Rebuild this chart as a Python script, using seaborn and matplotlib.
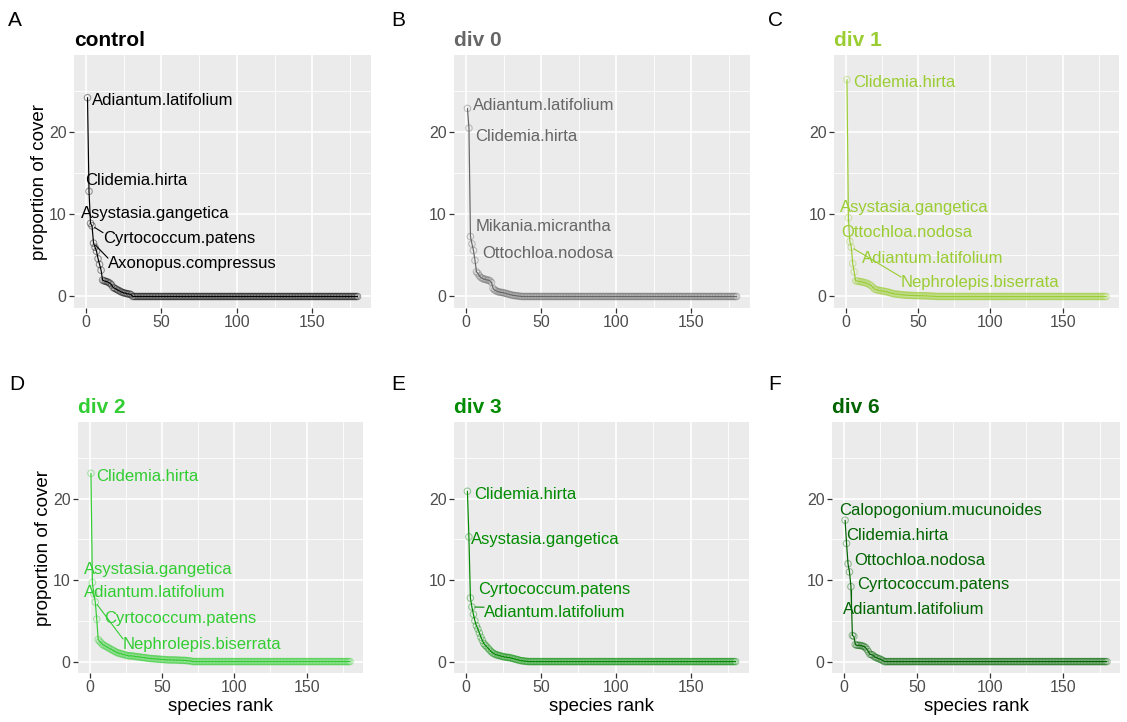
import numpy as np
import pandas as pd
import matplotlib
matplotlib.use("Agg")
import matplotlib.pyplot as plt
import seaborn as sns

# ---------------- data ----------------
N_SPECIES = 180

panel_letters = ["A", "B", "C", "D", "E", "F"]
panel_titles = ["control", "div 0", "div 1", "div 2", "div 3", "div 6"]
panel_colors = ["#000000", "#666666", "#9ACD32", "#32CD32", "#008B00", "#006400"]

# proportion of cover of the ranked species (all remaining species are 0)
cover_control = [24.2, 12.8, 8.9, 8.6, 6.5, 6.0, 5.5, 4.6, 3.9, 3.2, 2.0, 1.9, 1.85,
                 1.8, 1.7, 1.6, 1.4, 1.1, 1.0, 0.9, 0.8, 0.7, 0.6, 0.5, 0.45, 0.4,
                 0.35, 0.3, 0.3, 0.2]
cover_div0 = [22.9, 20.5, 7.3, 6.4, 5.6, 4.4, 3.0, 2.8, 2.5, 2.3, 2.2, 2.1, 2.1, 2.0,
              2.0, 1.9, 1.7, 1.0, 0.8, 0.7, 0.6, 0.55, 0.5, 0.5, 0.45, 0.4, 0.35,
              0.3, 0.25, 0.2, 0.15, 0.12, 0.1, 0.08, 0.05, 0.03]
cover_div1 = [26.4, 9.6, 6.7, 6.0, 4.0, 3.0, 1.9, 1.9, 1.85, 1.8, 1.8, 1.75, 1.7,
              1.65, 1.6, 1.5, 1.4, 1.3, 1.1, 0.9, 0.85, 0.8, 0.75, 0.7, 0.7, 0.65,
              0.6, 0.6, 0.55, 0.5, 0.45, 0.4, 0.35, 0.3, 0.3, 0.28, 0.25, 0.22, 0.2,
              0.2, 0.18, 0.16, 0.15, 0.15, 0.14, 0.13, 0.12, 0.12, 0.11, 0.1, 0.1,
              0.1, 0.1, 0.09, 0.08, 0.08, 0.07, 0.06, 0.05, 0.04, 0.03, 0.02]
cover_div2 = [23.1, 9.7, 8.3, 7.3, 5.2, 2.7, 2.5, 2.3, 2.1, 2.0, 1.9, 1.8, 1.7, 1.6,
              1.5, 1.4, 1.3, 1.2, 1.1, 1.05, 1.0, 0.95, 0.9, 0.85, 0.8, 0.75, 0.7,
              0.7, 0.7, 0.68, 0.65, 0.6, 0.6, 0.58, 0.55, 0.52, 0.5, 0.5, 0.45,
              0.42, 0.4, 0.38, 0.36, 0.35, 0.35, 0.32, 0.3, 0.3, 0.28, 0.26, 0.25,
              0.25, 0.22, 0.22, 0.21, 0.2, 0.2, 0.2, 0.2, 0.19, 0.18, 0.17, 0.16,
              0.15, 0.15, 0.15, 0.12, 0.1, 0.1, 0.08]
cover_div3 = [20.9, 15.3, 7.8, 6.7, 5.8, 5.0, 4.4, 4.0, 3.5, 3.0, 2.6, 2.2, 2.0, 1.8,
              1.6, 1.4, 1.2, 1.05, 0.95, 0.85, 0.8, 0.75, 0.7, 0.65, 0.6, 0.55, 0.55,
              0.5, 0.5, 0.45, 0.4, 0.35, 0.3, 0.25, 0.2, 0.15, 0.1, 0.1, 0.05, 0.05,
              0.02]
cover_div6 = [17.35, 14.5, 12.0, 11.0, 9.2, 3.2, 3.1, 2.1, 2.0, 2.0, 2.0, 1.95, 1.9,
              1.85, 1.7, 1.5, 1.2, 0.9, 0.85, 0.8, 0.6, 0.5, 0.45, 0.35, 0.3, 0.2,
              0.1]
panel_covers = [cover_control, cover_div0, cover_div1, cover_div2, cover_div3, cover_div6]

# labelled species, in rank order
labels_control = ["Adiantum.latifolium", "Clidemia.hirta", "Asystasia.gangetica",
                  "Cyrtococcum.patens", "Axonopus.compressus"]
labels_div0 = ["Adiantum.latifolium", "Clidemia.hirta", "Mikania.micrantha",
               "Ottochloa.nodosa"]
labels_div1 = ["Clidemia.hirta", "Asystasia.gangetica", "Ottochloa.nodosa",
               "Nephrolepis.biserrata", "Adiantum.latifolium"]
labels_div2 = ["Clidemia.hirta", "Asystasia.gangetica", "Adiantum.latifolium",
               "Nephrolepis.biserrata", "Cyrtococcum.patens"]
labels_div3 = ["Clidemia.hirta", "Asystasia.gangetica", "Cyrtococcum.patens",
               "Adiantum.latifolium"]
labels_div6 = ["Calopogonium.mucunoides", "Clidemia.hirta", "Ottochloa.nodosa",
               "Cyrtococcum.patens", "Adiantum.latifolium"]
panel_labels = [labels_control, labels_div0, labels_div1, labels_div2, labels_div3, labels_div6]

# ---------------- layout (repelled label placement, plot boxes) ----------------
label_place = [
    [(4.0, 23.9), (-0.7, 14.1), (-3.3, 10.1), (11.3, 7.1), (14.6, 4.0)],
    [(4.7, 23.2), (6.0, 19.5), (6.7, 8.5), (10.7, 5.2)],
    [(5.2, 26.1), (-3.8, 10.85), (-3.1, 7.8), (38.4, 1.7), (11.4, 4.6)],
    [(4.5, 22.7), (-3.8, 11.3), (-3.8, 8.5), (23.1, 2.1), (10.0, 5.3)],
    [(5.4, 20.5), (3.4, 15.0), (8.1, 8.9), (12.1, 6.0)],
    [(-3.2, 18.6), (1.6, 15.5), (7.1, 12.4), (9.1, 9.4), (-0.4, 6.4)],
]
boxes = [(74, 55, 371, 308), (454, 55, 750, 308), (834, 55, 1119, 308),
         (78, 422, 363, 673), (454, 422, 749, 673), (832, 422, 1120, 673)]
letter_pos = [(8, 21), (391, 21), (768, 21), (9, 384), (391, 384), (768, 384)]

W, H = 1127, 722

sns.set_style("darkgrid", {
    "axes.facecolor": "#EBEBEB",
    "grid.color": "white",
    "axes.edgecolor": "none",
    "xtick.bottom": True,
    "ytick.left": True,
    "xtick.color": "#333333",
    "ytick.color": "#333333",
})
plt.rcParams["font.family"] = ["Liberation Sans", "DejaVu Sans"]

fig = plt.figure(figsize=(W / 100, H / 100), dpi=100)
fig.patch.set_facecolor("white")

axes = []
texts_all = []
for i in range(6):
    l, t, r, b = boxes[i]
    ax = fig.add_axes([l / W, 1 - b / H, (r - l) / W, (b - t) / H])
    axes.append(ax)
    col = panel_colors[i]
    vals = list(panel_covers[i]) + [0.0] * (N_SPECIES - len(panel_covers[i]))
    df = pd.DataFrame({"rank": np.arange(1, N_SPECIES + 1), "cover": vals})

    sns.lineplot(data=df, x="rank", y="cover", color=col, linewidth=0.85,
                 errorbar=None, ax=ax, zorder=3)
    sns.scatterplot(data=df, x="rank", y="cover", color=col, marker="o", s=22,
                    facecolor="none", edgecolor=col, linewidth=0.75, alpha=0.4,
                    ax=ax, zorder=4)

    ax.set_xlim(-7.95, 188.95)
    ax.set_ylim(-1.4, 29.4)
    ax.set_xticks([0, 50, 100, 150])
    ax.set_yticks([0, 10, 20])
    ax.set_xticks([25, 75, 125, 175], minor=True)
    ax.set_yticks([5, 15, 25], minor=True)
    ax.grid(which="major", color="white", linewidth=1.2)
    ax.grid(which="minor", color="white", linewidth=0.6)
    ax.set_axisbelow(True)
    ax.tick_params(which="major", length=3.3, width=0.9, color="#333333",
                   labelsize=11.5, labelcolor="#4D4D4D", pad=2)
    ax.tick_params(which="minor", length=0)
    for sp in ax.spines.values():
        sp.set_visible(False)

    ax.set_xlabel("species rank" if i >= 3 else "", fontsize=13.5, color="black",
                  labelpad=2)
    ax.set_ylabel("proportion of cover" if i in (0, 3) else "", fontsize=13.5,
                  color="black", labelpad=0.5)

    ax.text(0.0, 1.02, panel_titles[i], transform=ax.transAxes, fontsize=15,
            fontweight="bold", color=col, ha="left", va="bottom")

    tx = []
    for k, name in enumerate(panel_labels[i]):
        lx, ly = label_place[i][k]
        tt = ax.text(lx, ly, name, fontsize=12, color=col, ha="left", va="center",
                     zorder=6)
        tx.append((tt, k + 1, vals[k]))
    texts_all.append(tx)

for i, (lx, ly) in enumerate(letter_pos):
    fig.text(lx / W, 1 - ly / H, panel_letters[i], fontsize=15, ha="left",
             va="center", color="black")

# leader segments from point to label box when the label sits away from its point
fig.canvas.draw()
renderer = fig.canvas.get_renderer()
for i, ax in enumerate(axes):
    col = panel_colors[i]
    inv = ax.transData.inverted()
    for tt, rk, v in texts_all[i]:
        bb = tt.get_window_extent(renderer)
        px, py = ax.transData.transform((rk, v))
        nx = min(max(px, bb.x0), bb.x1)
        ny = min(max(py, bb.y0 + 2), bb.y1 - 2)
        d = np.hypot(nx - px, ny - py)
        if d > 12:
            sx, sy = px + (nx - px) * 3 / d, py + (ny - py) * 3 / d
            (x0, y0), (x1, y1) = inv.transform([(sx, sy), (nx, ny)])
            ax.plot([x0, x1], [y0, y1], color=col, linewidth=0.8, zorder=5)

fig.savefig("out.png", dpi=100, facecolor="white")
